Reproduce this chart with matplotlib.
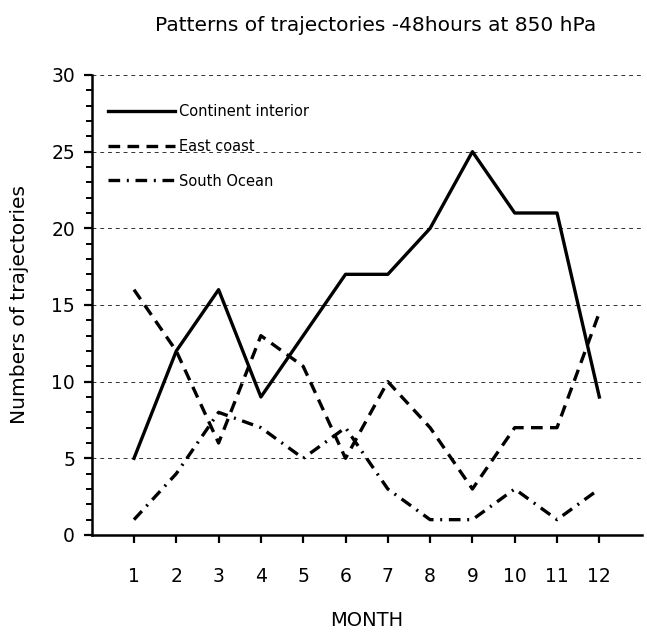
import matplotlib
matplotlib.use("Agg")
import matplotlib.pyplot as plt
from matplotlib.ticker import MultipleLocator

months = [1, 2, 3, 4, 5, 6, 7, 8, 9, 10, 11, 12]
continent_interior = [5, 12, 16, 9, 13, 17, 17, 20, 25, 21, 21, 9]
east_coast = [16, 12, 6, 13, 11, 5, 10, 7, 3, 7, 7, 14.5]
south_ocean = [1, 4, 8, 7, 5, 7, 3, 1, 1, 3, 1, 3]

plt.rcParams['font.family'] = ['DejaVu Sans']

fig = plt.figure(figsize=(6.47, 6.35), dpi=100)
ax = fig.add_axes([0.1417, 0.1575, 0.85, 0.7244])

lw = 2.4
ax.plot(months, continent_interior, color='black', lw=lw, linestyle='-', label='Continent interior')
ax.plot(months, east_coast, color='black', lw=lw, linestyle=(0, (3.5, 2.2)), label='East coast')
ax.plot(months, south_ocean, color='black', lw=lw, linestyle=(0, (3.5, 2.0, 0.6, 2.0)), label='South Ocean')

ax.set_xlim(0, 13)
ax.set_ylim(0, 30)
ax.set_xticks(months)
ax.set_yticks(range(0, 31, 5))
ax.yaxis.set_minor_locator(MultipleLocator(1))
for y in range(5, 31, 5):
    ax.axhline(y, color='#333333', lw=0.7, linestyle=(0, (4, 4)), zorder=0)

ax.spines['top'].set_visible(False)
ax.spines['right'].set_visible(False)
ax.spines['left'].set_linewidth(1.8)
ax.spines['bottom'].set_linewidth(1.8)
ax.tick_params(axis='both', which='major', direction='out', length=6, width=1.6, labelsize=13.5, pad=6)
ax.tick_params(axis='y', which='minor', direction='out', length=4, width=1.4)
ax.tick_params(axis='x', which='major', pad=17)

ax.set_xlabel('MONTH', fontsize=14, labelpad=18)
ax.set_ylabel('Numbers of trajectories', fontsize=14.5, labelpad=16)
fig.suptitle('Patterns of trajectories -48hours at 850 hPa', fontsize=14.5, y=0.975, x=0.58)

leg = ax.legend(loc='upper left', bbox_to_anchor=(0.005, 0.965), frameon=False, fontsize=10.5,
                handlelength=4.6, handletextpad=0.3, labelspacing=1.35)

fig.savefig('out.png', dpi=100)
